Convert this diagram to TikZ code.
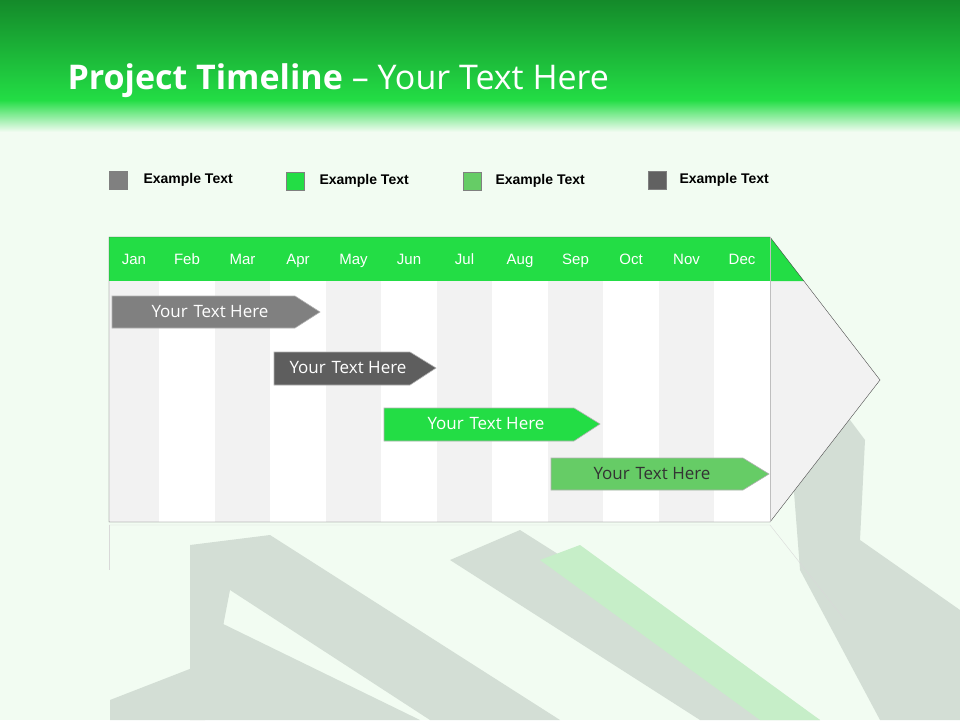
\documentclass[tikz,border=0pt]{standalone}
\usepackage{fontspec}
\setmainfont{Open Sans}
\newfontfamily\arialf{Liberation Sans}
\definecolor{gA}{HTML}{23DD45}
\definecolor{gB}{HTML}{66CC66}
\definecolor{gD}{HTML}{148A2A}
\definecolor{bgc}{HTML}{F2FCF2}
\definecolor{dec}{HTML}{D3DED5}
\definecolor{decg}{HTML}{C6EEC8}
\begin{document}
\begin{tikzpicture}[x=1pt,y=-1pt,
  leg/.style={font=\arialf\bfseries\fontsize{14}{16}\selectfont,anchor=west},
  mon/.style={font=\arialf\fontsize{15}{17}\selectfont,text=white,text height=11pt,text depth=3pt},
  btext/.style={text=white,font=\fontsize{17}{20}\selectfont},
  bar/.style={draw=white!70!black,line width=0.6pt}]
\useasboundingbox (0,0) rectangle (960,720);
\fill[bgc] (0,0) rectangle (960,720);
% decorative background arrows
\fill[dec] (190,545) -- (270,535) -- (560,720) -- (430,720) -- (230,590) -- (205,720) -- (190,720) -- cycle;
\fill[dec] (110,700) -- (200,665) -- (215,620) -- (420,720) -- (110,720) -- cycle;
\fill[dec] (450,560) -- (520,530) -- (820,720) -- (700,720) -- cycle;
\fill[decg] (540,560) -- (580,545) -- (820,720) -- (760,720) -- cycle;
\fill[dec] (790,440) -- (850,420) -- (865,440) -- (860,540) -- (960,610) -- (960,720) -- (880,720) -- (800,570) -- cycle;
% header
\shade[top color=gD,bottom color=gA] (0,0) rectangle (960,100);
\shade[top color=gA,bottom color=bgc] (0,100) rectangle (960,132);
\node[anchor=west,text=white,font=\fontsize{34}{38}\selectfont] (title) at (64,81) {\textbf{Project Timeline} -- Your Text Here};
% legend
\fill[black!50,draw=gray] (109,171) rectangle (127,189);
\node[leg] (l1) at (140,180) {Example Text};
\fill[gA,draw=gray] (286,172) rectangle (304,190);
\node[leg] (l2) at (316,181) {Example Text};
\fill[gB,draw=gray] (463,172) rectangle (481,190);
\node[leg] (l3) at (492,181) {Example Text};
\fill[black!62,draw=gray] (648,171) rectangle (666,189);
\node[leg] (l4) at (676,180) {Example Text};
% table
\fill[gray!10] (770,237) -- (880,380) -- (770,522) -- cycle;
\fill[gA] (770,237) -- (804,281) -- (770,281) -- cycle;
\foreach \a/\b/\m [count=\i] in {109/159/Jan,159/215/Feb,215/270/Mar,270/326/Apr,326/381/May,381/437/Jun,437/492/Jul,492/548/Aug,548/603/Sep,603/659/Oct,659/714/Nov,714/770/Dec}{
  \pgfmathparse{mod(\i,2)==1?"gray!10":"white"}\edef\cc{\pgfmathresult}
  \fill[\cc] (\a,281) rectangle (\b,522);
  \draw[gray!40] (\b,281) -- (\b,522);
  \fill[gA] (\a,237) rectangle (\b,281);
  \draw[black!60] (\b,237) -- (\b,281);
  \node[mon] (m\i) at ({(\a+\b)/2},260) {\m};
}
\draw[black!70] (109,237) -- (770,237) -- (880,380) -- (770,522) -- (109,522) -- cycle;
\draw[gray!50] (770,237) -- (770,522);
\draw[gray!30] (109,525) -- (770,525) -- (845,620);
\draw[gray!30] (109,525) -- (109,570);
% bars
\draw[bar,fill=black!50] (112,296) -- (295,296) -- (320,312) -- (295,328) -- (112,328) -- cycle;
\node[btext] (b1) at (210,312) {Your\,\,Text Here};
\draw[bar,fill=black!63] (274,352) -- (410,352) -- (436,368) -- (410,385) -- (274,385) -- cycle;
\node[btext] (b2) at (348,368) {Your\,\,Text Here};
\draw[bar,fill=gA] (384,408) -- (574,408) -- (600,424) -- (574,441) -- (384,441) -- cycle;
\node[btext] (b3) at (486,424) {Your\,\,Text Here};
\draw[bar,fill=gB] (551,458) -- (743,458) -- (769,474) -- (743,490) -- (551,490) -- cycle;
\node[btext,text=black!80] (b4) at (652,474) {Your\,\,Text Here};
\end{tikzpicture}
\end{document}
